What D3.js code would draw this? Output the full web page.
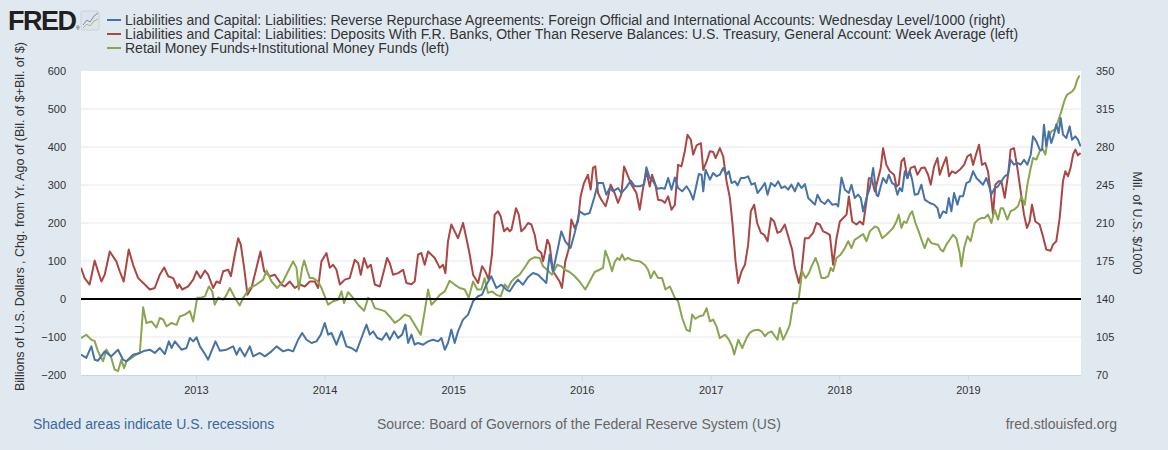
<!DOCTYPE html>
<html>
<head>
<meta charset="utf-8">
<script src="https://cdn.jsdelivr.net/npm/d3@7"></script>
<style>
  html, body { margin: 0; padding: 0; background: #e1e9f0; }
  svg { display: block; font-family: "Liberation Sans", Arial, sans-serif; }
</style>
</head>
<body>
<div id="container"></div>
<script>
// Series values (dates as decimal years)
var blueYears = [2012.109,2012.150,2012.189,2012.215,2012.241,2012.293,2012.344,2012.396,2012.435,2012.461,2012.513,2012.565,2012.604,2012.642,2012.681,2012.720,2012.759,2012.790,2012.811,2012.837,2012.888,2012.927,2012.953,2012.979,2013.005,2013.031,2013.070,2013.095,2013.152,2013.186,2013.238,2013.290,2013.316,2013.341,2013.380,2013.419,2013.445,2013.497,2013.536,2013.588,2013.627,
  2013.678,2013.717,2013.756,2013.795,2013.826,2013.860,2013.899,2013.937,2013.971,2014.002,2014.028,2014.054,2014.093,2014.132,2014.170,2014.209,2014.248,2014.287,2014.326,2014.352,2014.378,2014.411,2014.447,2014.481,2014.507,2014.541,2014.572,2014.603,2014.629,2014.650,2014.676,2014.701,2014.727,2014.766,2014.805,2014.844,2014.883,2014.909,2014.935,2014.960,2014.986,2015.012,2015.038,2015.077,2015.116,2015.155,2015.194,
  2015.225,2015.258,2015.297,2015.336,2015.375,2015.414,2015.440,2015.473,2015.504,2015.543,2015.582,2015.621,2015.660,2015.699,2015.724,2015.750,2015.776,2015.815,2015.841,2015.872,2015.913,2015.945,2015.983,2016.022,2016.061,2016.100,2016.126,2016.165,2016.191,2016.217,2016.242,2016.281,2016.307,2016.346,2016.380,2016.411,2016.450,2016.483,2016.501,2016.527,2016.553,2016.587,2016.618,2016.644,2016.670,2016.696,2016.722,2016.747,
  2016.779,2016.812,2016.838,2016.864,2016.890,2016.908,2016.929,2016.942,2016.960,2016.994,2017.019,2017.045,2017.071,2017.097,2017.123,2017.141,2017.162,2017.188,2017.209,2017.234,2017.260,2017.291,2017.317,2017.343,2017.364,2017.395,2017.421,2017.442,2017.468,2017.499,2017.525,2017.550,2017.576,2017.602,2017.628,2017.654,2017.680,2017.706,2017.732,2017.758,2017.784,2017.810,2017.830,2017.856,2017.887,2017.913,2017.944,2017.978,2017.991,2018.017,2018.043,2018.074,2018.094,2018.120,2018.146,2018.167,2018.185,2018.211,2018.237,2018.263,2018.289,
  2018.302,2018.322,2018.340,2018.366,2018.384,2018.410,2018.431,2018.452,2018.470,2018.488,2018.509,2018.529,2018.548,2018.566,2018.586,2018.612,2018.638,2018.664,2018.703,2018.737,2018.763,2018.781,2018.807,2018.832,2018.851,2018.871,2018.892,2018.918,2018.936,2018.962,2018.988,2019.014,2019.040,2019.066,2019.091,2019.117,2019.143,2019.169,2019.182,2019.208,2019.234,2019.260,2019.286,2019.312,2019.332,2019.358,2019.384,2019.410,2019.436,2019.462,2019.488,2019.506,2019.532,2019.558,2019.576,2019.591,2019.609,2019.628,2019.648,2019.669,2019.687,2019.705,2019.721,2019.739,2019.765,2019.791,2019.809,2019.835,2019.855,2019.876];
var blueValues = [88.7,85.7,96.4,84.1,83.2,91.8,87.2,93.3,84.1,82.6,88.7,90.3,92.4,93.3,90.3,94.9,89.3,101,94.9,101,93.3,94.9,104.1,101,104.7,96.4,89.3,84.1,101,92.4,93.3,96.4,88.7,94.9,87.2,96.4,87.2,90.3,87.2,91.8,96.4,
  91.8,93.3,91.8,102.5,108.7,102.5,99.5,101,107.2,117.9,107.2,108.7,97.9,110.2,96.4,94.9,91.8,104.1,116.4,107.2,110.2,104.1,102.5,108.7,102.5,110.2,104.1,107.2,116.4,99.5,107.2,97.9,99.5,97.9,101,102.5,101,104.1,93.3,99.5,111.8,99.5,110.2,121,125.6,137.9,142.5,
  144,153.2,160.9,150.1,153.2,148.6,147.1,153.2,157.8,153.2,160,163.9,162.4,157.8,154.7,180.8,165.5,187,202.3,193.1,187,200.8,220.7,217.7,219.2,234.6,246.8,246.8,236.1,242.2,239.2,242.2,237.6,242.8,249,243.8,243.8,245.3,261.3,251.4,248.4,241.6,242.2,241.6,251.4,240.7,252,242.2,
  239.2,243.8,239.2,231.5,245.3,255.1,254.5,239.2,259.1,249.9,256,253,254.5,260.7,254.5,257.6,246.8,248.4,244.7,251.4,251.4,253,245.3,246.8,237.6,242.2,246.8,236.1,246.8,243.8,248.4,242.2,243.8,240.7,245.3,239.2,246.8,242.2,245.9,233,230,226.9,236.1,230,227.5,231.5,226.9,227.5,225.3,252,240.7,237.6,245.3,233,236.1,233,220.7,233,242.2,260.7,236.1,
  234.6,243.8,251.4,246.8,254.5,246.8,245.3,236.1,242.2,239.2,257.6,251.4,257.6,249.9,236.1,236.7,245.3,231.5,228.4,226.9,223.8,214.6,220.7,219.2,233,220.7,237.6,226.9,234.6,234.6,246.8,248.4,257.6,251.4,248.4,245.3,251.4,242.2,236.1,242.2,243.8,248.4,253,255.1,268.3,263.7,265.3,263.7,268.3,263.7,272.9,289.8,285.2,277.5,277.5,300.6,280.6,294.4,283.7,291.4,300.6,292.9,306.7,291.4,288.3,299,286.7,289.8,286.7,280.6];

var redYears = [2012.109,2012.137,2012.176,2012.215,2012.241,2012.267,2012.293,2012.332,2012.383,2012.409,2012.440,2012.479,2012.513,2012.552,2012.604,2012.642,2012.681,2012.720,2012.754,2012.785,2012.824,2012.857,2012.870,2012.894,2012.940,2012.979,2013.005,2013.036,2013.070,2013.095,2013.134,2013.160,2013.186,2013.212,2013.251,2013.272,2013.303,2013.329,2013.349,2013.375,2013.401,2013.432,2013.471,2013.502,2013.531,2013.575,2013.614,2013.665,
  2013.691,2013.730,2013.769,2013.808,2013.847,2013.886,2013.924,2013.950,2013.976,2014.015,2014.041,2014.067,2014.093,2014.119,2014.158,2014.196,2014.235,2014.261,2014.282,2014.308,2014.334,2014.360,2014.391,2014.430,2014.468,2014.486,2014.507,2014.533,2014.572,2014.611,2014.637,2014.676,2014.701,2014.727,2014.753,2014.779,2014.805,2014.857,2014.896,2014.922,2014.940,2014.960,2014.986,2015.012,2015.038,2015.077,2015.103,2015.129,2015.155,2015.194,
  2015.225,2015.250,2015.276,2015.302,2015.323,2015.349,2015.370,2015.396,2015.421,2015.440,2015.453,2015.473,2015.489,2015.510,2015.530,2015.556,2015.582,2015.608,2015.634,2015.655,2015.686,2015.699,2015.711,2015.732,2015.750,2015.776,2015.802,2015.828,2015.846,2015.872,2015.898,2015.919,2015.945,2015.971,2015.991,2016.017,2016.048,2016.069,2016.087,2016.105,2016.126,2016.152,2016.185,2016.203,2016.224,2016.255,2016.281,2016.307,2016.328,2016.354,2016.385,2016.424,2016.450,2016.475,2016.501,2016.527,2016.545,2016.571,2016.592,2016.623,2016.644,2016.670,2016.696,2016.722,2016.747,
  2016.773,2016.799,2016.820,2016.846,2016.864,2016.890,2016.924,2016.942,2016.968,2016.994,2017.019,2017.038,2017.071,2017.097,2017.123,2017.149,2017.170,2017.193,2017.214,2017.240,2017.266,2017.291,2017.312,2017.338,2017.361,2017.390,2017.416,2017.442,2017.468,2017.493,2017.519,2017.545,2017.576,2017.607,2017.633,2017.654,2017.685,2017.706,2017.732,2017.762,2017.796,2017.822,2017.848,2017.874,2017.900,2017.926,2017.952,2017.978,2018.004,2018.030,2018.056,2018.074,2018.100,2018.133,2018.159,2018.185,2018.211,2018.229,2018.250,2018.276,
  2018.302,2018.322,2018.340,2018.366,2018.392,2018.426,2018.444,2018.462,2018.483,2018.503,2018.529,2018.555,2018.586,2018.607,2018.638,2018.664,2018.690,2018.711,2018.737,2018.763,2018.781,2018.807,2018.832,2018.853,2018.876,2018.902,2018.936,2018.970,2018.995,2019.021,2019.040,2019.066,2019.086,2019.109,2019.135,2019.156,2019.177,2019.195,2019.213,2019.239,2019.260,2019.286,2019.312,2019.332,2019.358,2019.384,2019.410,2019.436,2019.459,2019.480,2019.498,2019.524,2019.557,2019.583,2019.609,2019.643,2019.661,2019.687,2019.713,2019.739,2019.757,2019.778,2019.798,2019.817,2019.835,2019.855,2019.876];
var redValues = [82,55,38,101,73,46,64,125,99,73,46,130,90,55,38,25,29,64,83,60,55,29,39,25,33,51,73,55,75,64,29,46,42,73,77,60,117,160,143,82,11,29,82,125,73,60,64,38,
  33,46,29,38,33,46,46,29,99,121,82,90,77,38,51,55,103,95,64,108,82,90,38,33,82,108,95,64,68,77,42,39,46,117,121,90,125,108,82,90,68,152,196,178,160,200,160,117,64,42,
  86,73,51,117,222,231,217,178,187,178,182,213,239,222,178,187,200,196,169,130,121,99,117,156,143,73,60,46,29,99,130,209,187,204,270,305,327,288,345,349,279,261,244,266,301,279,253,275,349,327,301,279,235,292,336,296,327,301,261,259,253,270,235,248,353,
  349,389,432,419,380,404,410,340,362,389,387,371,397,375,310,266,196,99,42,73,90,143,231,248,200,174,169,152,213,204,174,178,196,160,130,82,42,73,160,160,174,200,196,178,174,169,90,160,204,213,222,270,204,196,204,196,257,318,318,283,
  318,345,397,353,336,327,296,301,362,371,318,345,349,327,345,346,327,301,349,371,327,353,373,323,336,331,340,353,375,381,353,384,406,353,358,336,279,222,301,310,310,266,327,393,397,345,283,222,187,204,248,204,196,165,130,127,143,152,213,310,336,323,345,380,393,378,384];

var greenYears = [2012.109,2012.150,2012.189,2012.215,2012.241,2012.280,2012.306,2012.344,2012.370,2012.396,2012.422,2012.443,2012.461,2012.500,2012.539,2012.565,2012.591,2012.616,2012.655,2012.694,2012.720,2012.746,2012.772,2012.811,2012.850,2012.875,2012.914,2012.953,2012.979,2013.010,2013.044,2013.070,2013.101,2013.127,2013.147,2013.173,2013.212,2013.238,2013.264,2013.303,2013.341,2013.367,2013.419,2013.471,2013.523,2013.549,2013.588,2013.632,
  2013.678,2013.717,2013.756,2013.782,2013.800,2013.826,2013.842,2013.867,2013.886,2013.911,2013.950,2013.976,2014.028,2014.067,2014.106,2014.132,2014.152,2014.183,2014.222,2014.261,2014.308,2014.339,2014.365,2014.391,2014.430,2014.468,2014.507,2014.546,2014.585,2014.624,2014.663,2014.701,2014.748,2014.779,2014.805,2014.831,2014.857,2014.896,2014.935,2014.973,2015.012,2015.051,2015.090,2015.121,2015.155,2015.188,
  2015.219,2015.245,2015.271,2015.302,2015.336,2015.370,2015.401,2015.427,2015.453,2015.478,2015.517,2015.556,2015.595,2015.634,2015.673,2015.699,2015.737,2015.768,2015.810,2015.841,2015.867,2015.906,2015.945,2015.983,2016.027,2016.061,2016.100,2016.139,2016.165,2016.183,2016.209,2016.235,2016.255,2016.276,2016.294,2016.312,2016.333,2016.359,2016.385,2016.411,2016.450,2016.488,2016.514,2016.535,2016.561,2016.592,2016.623,2016.649,2016.683,2016.722,2016.747,
  2016.779,2016.812,2016.838,2016.856,2016.882,2016.908,2016.942,2016.968,2016.994,2017.019,2017.045,2017.071,2017.110,2017.141,2017.167,2017.183,2017.214,2017.245,2017.278,2017.304,2017.330,2017.369,2017.395,2017.421,2017.447,2017.473,2017.499,2017.519,2017.537,2017.563,2017.589,2017.615,2017.641,2017.667,2017.685,2017.711,2017.737,2017.763,2017.784,2017.815,2017.835,2017.861,2017.887,2017.913,2017.934,2017.952,2017.978,2018.011,2018.043,2018.069,2018.094,2018.120,2018.159,2018.185,2018.211,2018.237,2018.276,2018.302,
  2018.333,2018.366,2018.392,2018.418,2018.444,2018.462,2018.483,2018.503,2018.522,2018.548,2018.566,2018.592,2018.617,2018.643,2018.664,2018.690,2018.716,2018.742,2018.768,2018.788,2018.807,2018.832,2018.858,2018.884,2018.910,2018.936,2018.949,2018.970,2018.996,2019.021,2019.053,2019.079,2019.104,2019.130,2019.156,2019.182,2019.208,2019.234,2019.255,2019.273,2019.306,2019.332,2019.358,2019.389,2019.415,2019.441,2019.462,2019.488,2019.506,2019.532,2019.558,2019.584,2019.602,2019.622,2019.648,2019.674,2019.700,2019.726,2019.752,2019.772,2019.791,2019.809,2019.830,2019.850,2019.868];
var greenValues = [-103,-94,-107,-111,-138,-164,-133,-155,-186,-190,-160,-182,-164,-155,-146,-142,-22,-63,-59,-75,-50,-54,-72,-63,-68,-46,-41,-32,-59,3,4,7,33,20,-15,4,-2,11,29,3,-17,3,29,38,51,75,46,29,
  46,73,99,82,25,82,101,73,55,55,46,29,-15,-6,-2,20,-11,18,3,-15,-31,3,-2,-24,-28,-32,-46,-63,-54,-41,-46,-68,-94,-32,25,-15,-6,11,20,48,38,29,25,3,46,25,
  25,55,16,20,11,7,38,29,46,55,64,83,103,110,108,86,75,64,90,86,77,71,60,46,25,46,71,77,82,127,103,73,97,108,103,117,103,108,103,101,99,90,77,55,73,55,55,25,33,3,-6,
  -50,-81,-85,-41,-52,-46,-43,-24,-59,-54,-72,-103,-94,-107,-125,-146,-107,-129,-103,-89,-83,-81,-85,-98,-89,-85,-98,-107,-76,-107,-89,-68,-11,-11,3,73,55,68,86,108,90,55,55,60,82,73,108,117,134,152,134,156,165,171,152,178,191,187,
  160,169,178,187,204,222,187,204,200,222,231,200,178,152,134,160,147,145,143,130,125,143,156,169,160,121,86,134,165,152,200,209,213,213,222,200,235,209,239,239,209,231,235,244,270,248,301,345,371,367,389,393,380,424,441,446,467,494,524,538,542,546,555,577,588];

var yearTicks = [2013, 2014, 2015, 2016, 2017, 2018, 2019];
var leftTicks = [-200, -100, 0, 100, 200, 300, 400, 500, 600];
var rightTicks = [70, 105, 140, 175, 210, 245, 280, 315, 350];

var legendLabels = [
  "Liabilities and Capital: Liabilities: Reverse Repurchase Agreements: Foreign Official and International Accounts: Wednesday Level/1000 (right)",
  "Liabilities and Capital: Liabilities: Deposits With F.R. Banks, Other Than Reserve Balances: U.S. Treasury, General Account: Week Average (left)",
  "Retail Money Funds+Institutional Money Funds (left)"
];
var colors = ["#4572a7", "#aa4643", "#89a54e"];

// decimal year -> Date
function dec(y) {
    var Y = Math.floor(y);
    var a = Date.UTC(Y, 0, 1), b = Date.UTC(Y + 1, 0, 1);
    return new Date(a + (y - Y) * (b - a));
}

function pairs(years, values) {
    return years.map(function(d, i) { return { date: dec(d), value: values[i] }; });
}

var width = 1168, height = 450;
var plot = { left: 81, right: 1081, top: 71, bottom: 375 };

var svg = d3.select("#container").append("svg")
    .attr("width", width)
    .attr("height", height);

svg.append("rect").attr("width", width).attr("height", height).attr("fill", "#e1e9f0");

var x = d3.scaleUtc()
    .domain([dec(2012.109), dec(2019.879)])
    .range([plot.left, plot.right]);
var yLeft = d3.scaleLinear().domain([-200, 600]).range([plot.bottom, plot.top]);
var yRight = d3.scaleLinear().domain([70, 350]).range([plot.bottom, plot.top]);

// plot background
svg.append("rect")
    .attr("x", plot.left).attr("y", plot.top)
    .attr("width", plot.right - plot.left).attr("height", plot.bottom - plot.top)
    .attr("fill", "#ffffff");

svg.append("clipPath").attr("id", "clip")
    .append("rect")
    .attr("x", plot.left).attr("y", plot.top - 2)
    .attr("width", plot.right - plot.left).attr("height", plot.bottom - plot.top + 4);

// gridlines
svg.append("g")
    .selectAll("line")
    .data(leftTicks.filter(function(d) { return d !== 0 && d !== 600 && d !== -200; }))
    .enter().append("line")
    .attr("x1", plot.left).attr("x2", plot.right)
    .attr("y1", function(d) { return yLeft(d); })
    .attr("y2", function(d) { return yLeft(d); })
    .attr("stroke", "#e6e6e6").attr("stroke-width", 1);

// bottom axis line + year ticks
svg.append("line")
    .attr("x1", plot.left).attr("x2", plot.right)
    .attr("y1", plot.bottom + 0.5).attr("y2", plot.bottom + 0.5)
    .attr("stroke", "#ccd6eb");

var xAxis = svg.append("g")
    .attr("transform", "translate(0," + plot.bottom + ")")
    .call(d3.axisBottom(x)
        .tickValues(yearTicks.map(function(d) { return dec(d); }))
        .tickFormat(d3.utcFormat("%Y"))
        .tickSize(6).tickPadding(5));
xAxis.select(".domain").remove();
xAxis.selectAll("line").attr("stroke", "#ccd6eb");
xAxis.selectAll("text")
    .attr("fill", "#333").style("font-size", "11px")
    .style("font-family", "Liberation Sans, Arial, sans-serif");

// left axis
var leftAxis = svg.append("g")
    .attr("transform", "translate(" + (plot.left - 15) + ",0)")
    .call(d3.axisLeft(yLeft).tickValues(leftTicks).tickSize(0).tickPadding(0));
leftAxis.select(".domain").remove();
leftAxis.selectAll("text")
    .attr("fill", "#333").style("font-size", "11px")
    .style("font-family", "Liberation Sans, Arial, sans-serif");

// right axis
var rightAxis = svg.append("g")
    .attr("transform", "translate(" + (plot.right + 15) + ",0)")
    .call(d3.axisRight(yRight).tickValues(rightTicks).tickSize(0).tickPadding(0));
rightAxis.select(".domain").remove();
rightAxis.selectAll("text")
    .attr("fill", "#333").style("font-size", "11px")
    .style("font-family", "Liberation Sans, Arial, sans-serif");

// axis titles
svg.append("text")
    .attr("transform", "translate(24,391) rotate(-90)")
    .attr("fill", "#333").style("font-size", "12.5px")
    .text("Billions of U.S. Dollars , Chg. from Yr. Ago of (Bil. of $+Bil. of $)");

svg.append("text")
    .attr("transform", "translate(1133," + ((plot.top + plot.bottom) / 2) + ") rotate(90)")
    .attr("text-anchor", "middle")
    .attr("fill", "#333").style("font-size", "12.5px")
    .text("Mil. of U.S. $/1000");

// series
var lines = svg.append("g").attr("clip-path", "url(#clip)");

var lineLeft = d3.line()
    .x(function(d) { return x(d.date); })
    .y(function(d) { return yLeft(d.value); });
var lineRight = d3.line()
    .x(function(d) { return x(d.date); })
    .y(function(d) { return yRight(d.value); });

lines.append("path")
    .datum(pairs(redYears, redValues))
    .attr("d", lineLeft)
    .attr("fill", "none").attr("stroke", colors[1]).attr("stroke-width", 2)
    .attr("stroke-linejoin", "round");

lines.append("path")
    .datum(pairs(greenYears, greenValues))
    .attr("d", lineLeft)
    .attr("fill", "none").attr("stroke", colors[2]).attr("stroke-width", 2)
    .attr("stroke-linejoin", "round");

lines.append("path")
    .datum(pairs(blueYears, blueValues))
    .attr("d", lineRight)
    .attr("fill", "none").attr("stroke", colors[0]).attr("stroke-width", 2)
    .attr("stroke-linejoin", "round");

// zero line
svg.append("line")
    .attr("x1", plot.left).attr("x2", plot.right)
    .attr("y1", yLeft(0)).attr("y2", yLeft(0))
    .attr("stroke", "#000").attr("stroke-width", 2);

// FRED logo
var logo = svg.append("g");
logo.append("text")
    .attr("x", 8).attr("y", 30)
    .style("font-size", "27px").style("font-weight", "bold")
    .style("letter-spacing", "-1.5px")
    .attr("fill", "#231f20")
    .text("FRED");
logo.append("text")
    .attr("x", 76).attr("y", 30)
    .style("font-size", "5px").attr("fill", "#231f20")
    .text("®");
logo.append("rect")
    .attr("x", 81).attr("y", 11).attr("width", 18).attr("height", 19)
    .attr("rx", 2).attr("fill", "#dfe4ea").attr("stroke", "#c9d0d8");
logo.append("path")
    .attr("d", "M83,25 L87,20 L90,22 L94,16 L98,13")
    .attr("fill", "none").attr("stroke", "#6b8fc0").attr("stroke-width", 1);
logo.append("path")
    .attr("d", "M83,28 L87,24 L90,26 L94,21 L98,19")
    .attr("fill", "none").attr("stroke", "#9cbf6a").attr("stroke-width", 1);

// legend
var legend = svg.append("g")
    .selectAll("g")
    .data(legendLabels)
    .enter().append("g")
    .attr("transform", function(d, i) { return "translate(107," + (20 + i * 14) + ")"; });
legend.append("line")
    .attr("x1", 0).attr("x2", 14)
    .attr("stroke", function(d, i) { return colors[i]; })
    .attr("stroke-width", 2);
legend.append("text")
    .attr("x", 18).attr("dy", "0.35em")
    .attr("fill", "#333").style("font-size", "14px")
    .text(function(d) { return d; });

// footer
svg.append("text")
    .attr("x", 33).attr("y", 429)
    .attr("fill", "#3b679e").style("font-size", "14px")
    .text("Shaded areas indicate U.S. recessions");
svg.append("text")
    .attr("x", 377).attr("y", 429)
    .attr("fill", "#666").style("font-size", "14px")
    .text("Source: Board of Governors of the Federal Reserve System (US)");
svg.append("text")
    .attr("x", 1117).attr("y", 429).attr("text-anchor", "end")
    .attr("fill", "#666").style("font-size", "14px")
    .text("fred.stlouisfed.org");
</script>
</body>
</html>
